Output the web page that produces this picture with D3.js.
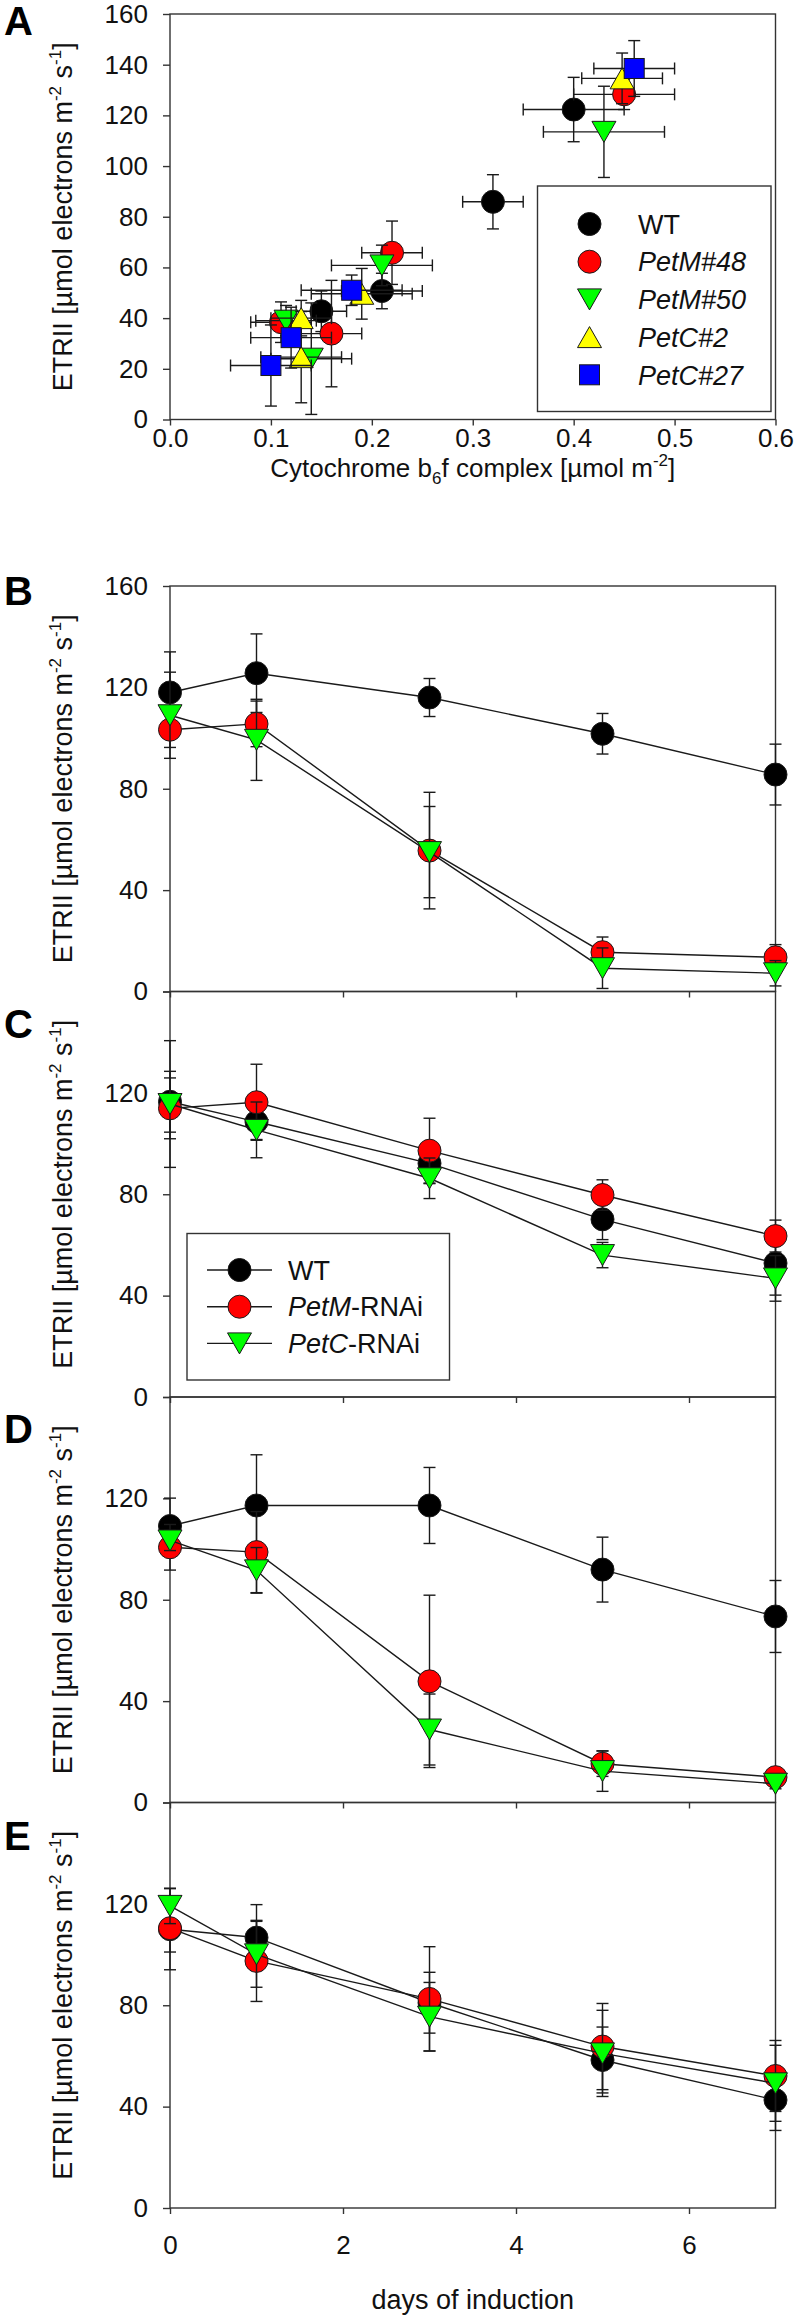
<!DOCTYPE html>
<html>
<head>
<meta charset="utf-8">
<script src="https://cdnjs.cloudflare.com/ajax/libs/d3/7.8.5/d3.min.js"></script>
<style>
  body { margin: 0; background: #fff; }
</style>
</head>
<body>
<div id="chart"></div>
<script>
// ---- panel A: ETRII vs cytochrome b6f content ----
// rows: [cyt b6f, cyt err, ETRII, ETRII err]
var wtA    = [[0.15, 0.025, 42.7, 8], [0.21, 0.04, 50.7, 7], [0.32, 0.03, 85.9, 10.7], [0.40, 0.05, 122.3, 12.7]];
var petm48 = [[0.11, 0.03, 38.4, 8], [0.16, 0.03, 33.9, 21], [0.22, 0.03, 65.8, 12.5], [0.45, 0.05, 128.3, 6]];
var petm50 = [[0.115, 0.03, 39, 6], [0.14, 0.04, 24, 22], [0.21, 0.05, 60.8, 8], [0.43, 0.06, 113.5, 18]];
var petc2  = [[0.13, 0.03, 40, 7], [0.13, 0.04, 24.6, 18], [0.19, 0.05, 49.6, 10], [0.448, 0.04, 134.6, 10]];
var petc27 = [[0.10, 0.04, 21.3, 16], [0.12, 0.04, 32.3, 12], [0.18, 0.05, 51, 6], [0.46, 0.04, 138.5, 11]];
var namesA = ['WT', 'PetM#48', 'PetM#50', 'PetC#2', 'PetC#27'];
var cytTicks = [0, 0.1, 0.2, 0.3, 0.4, 0.5, 0.6];
var etrTicksA = [0, 20, 40, 60, 80, 100, 120, 140, 160];

// ---- panels B-E: ETRII over days of induction ----
var days = [0, 1, 3, 5, 7];
var dayTicks = [0, 2, 4, 6];
var etrTicks = [0, 40, 80, 120, 160];
var namesT = ['WT', 'PetM', 'PetC'];

var wtB = [118, 125.6, 116, 101.7, 85.6],   wtBErr = [16, 15.5, 7.5, 8, 12];
var pmB = [103.3, 105.6, 55.6, 15.5, 13.5], pmBErr = [7, 9, 23, 6, 5];
var pcB = [109, 99.3, 55, 9.2, 7.2],        pcBErr = [17, 16, 18, 8, 5];

var wtC = [116.5, 108.6, 92.2, 70.1, 52.8], wtCErr = [12, 7, 8, 8, 12.6];
var pmC = [113.9, 116.3, 97.2, 79.7, 63.5], pmCErr = [12, 15, 12.8, 6, 6.3];
var pcC = [115.6, 105.4, 86.3, 56, 46.8],   pcCErr = [25, 11, 8, 5, 9];

var wtD = [109.1, 117.2, 117.2, 91.9, 73.4], wtDErr = [11, 20, 15, 12.8, 14.2];
var pmD = [100.7, 98.8, 47.8, 15.3, 10],     pmDErr = [9, 16, 34, 5, 1.5];
var pcD = [103.4, 91.6, 28.8, 12.4, 7.4],    pcDErr = [4, 9, 14, 8, 2];

var wtE = [110, 106.7, 81, 58.4, 42.6],    wtEErr = [16, 13, 12, 13, 12];
var pmE = [110.4, 97.5, 82.5, 63.7, 52.1], pmEErr = [9.4, 16, 20.6, 17, 14];
var pcE = [119.2, 100.1, 75.5, 61, 49.2],  pcEErr = [7, 13, 13.5, 17, 15];

var FONT = '"Liberation Sans", Arial, sans-serif',
    AXIS = '#333',
    LINE = '#1a1a1a',
    X0 = 170, X1 = 775.5,
    PANEL_H = 405.5;

var svg = d3.select('#chart').append('svg')
  .attr('width', 797)
  .attr('height', 2320)
  .style('font-family', FONT);

var drawMarker = function (g, shape, fill, cx, cy) {
  var m;
  if (shape === 'circle') {
    m = g.append('circle').attr('cx', cx).attr('cy', cy).attr('r', 11.5);
  } else if (shape === 'down') {
    m = g.append('path').attr('d', 'M' + (cx - 12) + ',' + (cy - 10.5) + 'L' + (cx + 12) + ',' + (cy - 10.5) + 'L' + cx + ',' + (cy + 10.5) + 'Z');
  } else if (shape === 'up') {
    m = g.append('path').attr('d', 'M' + (cx - 12) + ',' + (cy + 10.5) + 'L' + (cx + 12) + ',' + (cy + 10.5) + 'L' + cx + ',' + (cy - 10.5) + 'Z');
  } else {
    m = g.append('rect').attr('x', cx - 10).attr('y', cy - 10).attr('width', 20).attr('height', 20);
  }
  m.attr('fill', fill).attr('stroke', '#1a1a1a').attr('stroke-width', 1);
};

var vErr = function (g, x, y1, y2) {
  g.append('line').attr('x1', x).attr('x2', x).attr('y1', y1).attr('y2', y2);
  g.append('line').attr('x1', x - 6).attr('x2', x + 6).attr('y1', y1).attr('y2', y1);
  g.append('line').attr('x1', x - 6).attr('x2', x + 6).attr('y1', y2).attr('y2', y2);
};

var hErr = function (g, y, x1, x2) {
  g.append('line').attr('y1', y).attr('y2', y).attr('x1', x1).attr('x2', x2);
  g.append('line').attr('y1', y - 6).attr('y2', y + 6).attr('x1', x1).attr('x2', x1);
  g.append('line').attr('y1', y - 6).attr('y2', y + 6).attr('x1', x2).attr('x2', x2);
};

var styleAxis = function (g) {
  g.attr('font-size', 26).attr('font-family', FONT);
  g.select('.domain').remove();
  g.selectAll('line').attr('stroke', AXIS).attr('stroke-width', 1.4);
  g.selectAll('text').attr('fill', '#111');
};

var frame = function (top, bottom) {
  svg.append('rect')
    .attr('x', X0).attr('y', top)
    .attr('width', X1 - X0).attr('height', bottom - top)
    .attr('fill', 'none').attr('stroke', AXIS).attr('stroke-width', 1.4);
};

var yLabel = function (cy) {
  var t = svg.append('text')
    .attr('transform', 'translate(72,' + cy + ') rotate(-90)')
    .attr('text-anchor', 'middle')
    .attr('font-size', 27)
    .attr('fill', '#111');
  t.append('tspan').text('ETRII [µmol electrons m');
  t.append('tspan').attr('font-size', 17).attr('dy', -11).text('-2');
  t.append('tspan').attr('dy', 11).text(' s');
  t.append('tspan').attr('font-size', 17).attr('dy', -11).text('-1');
  t.append('tspan').attr('dy', 11).text(']');
};

var panelLetter = function (letter, baseline) {
  svg.append('text').attr('x', 4).attr('y', baseline)
    .attr('font-size', 40).attr('font-weight', 'bold')
    .attr('fill', '#000').text(letter);
};

// ---------------- panel A ----------------
var xA = d3.scaleLinear().domain([0, 0.6]).range([X0, X1]);
var yA = d3.scaleLinear().domain([0, 160]).range([14 + PANEL_H, 14]);

frame(yA(160), yA(0));

svg.append('g').attr('transform', 'translate(0,' + yA(0) + ')')
  .call(d3.axisBottom(xA).tickValues(cytTicks).tickFormat(d3.format('.1f')).tickSize(6).tickPadding(3))
  .call(styleAxis);
svg.append('g').attr('transform', 'translate(' + X0 + ',0)')
  .call(d3.axisLeft(yA).tickValues(etrTicksA).tickSize(7).tickPadding(15))
  .call(styleAxis);

var seriesA = [
  { name: namesA[0], data: wtA,    shape: 'circle', fill: '#000000' },
  { name: namesA[1], data: petm48, shape: 'circle', fill: '#ff0000' },
  { name: namesA[2], data: petm50, shape: 'down',   fill: '#00ff00' },
  { name: namesA[3], data: petc2,  shape: 'up',     fill: '#ffff00' },
  { name: namesA[4], data: petc27, shape: 'square', fill: '#0000ff' }
];

seriesA.forEach(function (s) {
  var g = svg.append('g');
  var eg = g.append('g').attr('stroke', LINE).attr('stroke-width', 1.4);
  s.data.forEach(function (d) {
    hErr(eg, yA(d[2]), xA(d[0] - d[1]), xA(d[0] + d[1]));
    vErr(eg, xA(d[0]), yA(d[2] - d[3]), yA(d[2] + d[3]));
  });
  s.data.forEach(function (d) {
    drawMarker(g, s.shape, s.fill, xA(d[0]), yA(d[2]));
  });
});

// legend A
var legA = svg.append('g');
legA.append('rect').attr('x', 537.5).attr('y', 186).attr('width', 233.5).attr('height', 225.5)
  .attr('fill', '#fff').attr('stroke', AXIS).attr('stroke-width', 1.4);
seriesA.forEach(function (s, i) {
  var cy = 224 + i * 37.7;
  drawMarker(legA, s.shape, s.fill, 589.5, cy);
  var t = legA.append('text').attr('x', 638).attr('y', cy + 9.7)
    .attr('font-size', 27).attr('fill', '#111');
  if (i === 0) {
    t.text(s.name);
  } else {
    t.attr('font-style', 'italic').text(s.name);
  }
});

// x label A
var xl = svg.append('text').attr('x', (X0 + X1) / 2).attr('y', 477)
  .attr('text-anchor', 'middle').attr('font-size', 26).attr('fill', '#111');
xl.append('tspan').text('Cytochrome b');
xl.append('tspan').attr('font-size', 17).attr('dy', 7).text('6');
xl.append('tspan').attr('dy', -7).text('f complex [µmol m');
xl.append('tspan').attr('font-size', 17).attr('dy', -11).text('-2');
xl.append('tspan').attr('dy', 11).text(']');

yLabel(14 + PANEL_H / 2);
panelLetter('A', 35);

// ---------------- panels B-E ----------------
var xT = d3.scaleLinear().domain([0, 7]).range([X0, X1]);

var panels = [
  { letter: 'B', top: 586,                   letterY: 605,  wt: [wtB, wtBErr], pm: [pmB, pmBErr], pc: [pcB, pcBErr] },
  { letter: 'C', top: 586 + PANEL_H,         letterY: 1038, wt: [wtC, wtCErr], pm: [pmC, pmCErr], pc: [pcC, pcCErr] },
  { letter: 'D', top: 586 + PANEL_H * 2,     letterY: 1443, wt: [wtD, wtDErr], pm: [pmD, pmDErr], pc: [pcD, pcDErr] },
  { letter: 'E', top: 586 + PANEL_H * 3,     letterY: 1850, wt: [wtE, wtEErr], pm: [pmE, pmEErr], pc: [pcE, pcEErr] }
];

var styleT = [
  { key: 'wt', shape: 'circle', fill: '#000000' },
  { key: 'pm', shape: 'circle', fill: '#ff0000' },
  { key: 'pc', shape: 'down',   fill: '#00ff00' }
];

panels.forEach(function (p, pi) {
  var y = d3.scaleLinear().domain([0, 160]).range([p.top + PANEL_H, p.top]);
  frame(p.top, p.top + PANEL_H);

  var isLast = pi === panels.length - 1;
  svg.append('g').attr('transform', 'translate(0,' + y(0) + ')')
    .call(d3.axisBottom(xT).tickValues(dayTicks).tickSize(6).tickPadding(22)
      .tickFormat(isLast ? d3.format('d') : function () { return ''; }))
    .call(styleAxis);
  svg.append('g').attr('transform', 'translate(' + X0 + ',0)')
    .call(d3.axisLeft(y).tickValues(etrTicks).tickSize(7).tickPadding(15)
      .tickFormat(function (d) { return (pi > 0 && d === 160) ? '' : d; }))
    .call(styleAxis);

  var line = d3.line().x(function (d) { return xT(d[0]); }).y(function (d) { return y(d[1]); });

  styleT.forEach(function (s) {
    var vals = p[s.key][0], errs = p[s.key][1];
    var pts = days.map(function (d, i) { return [d, vals[i], errs[i]]; });
    var g = svg.append('g');
    g.append('path').datum(pts).attr('d', line)
      .attr('fill', 'none').attr('stroke', LINE).attr('stroke-width', 1.4);
    var eg = g.append('g').attr('stroke', LINE).attr('stroke-width', 1.4);
    pts.forEach(function (d) {
      vErr(eg, xT(d[0]), y(d[1] - d[2]), y(d[1] + d[2]));
    });
    pts.forEach(function (d) {
      drawMarker(g, s.shape, s.fill, xT(d[0]), y(d[1]));
    });
  });

  yLabel(p.top + PANEL_H / 2);
  panelLetter(p.letter, p.letterY);
});

// legend C
var legC = svg.append('g');
legC.append('rect').attr('x', 187).attr('y', 1233.5).attr('width', 262.5).attr('height', 146.5)
  .attr('fill', '#fff').attr('stroke', AXIS).attr('stroke-width', 1.4);
styleT.forEach(function (s, i) {
  var cy = 1270 + i * 36.7;
  legC.append('line').attr('x1', 207).attr('x2', 272).attr('y1', cy).attr('y2', cy)
    .attr('stroke', LINE).attr('stroke-width', 1.4);
  drawMarker(legC, s.shape, s.fill, 239.5, cy);
  var t = legC.append('text').attr('x', 288).attr('y', cy + 9.7)
    .attr('font-size', 27).attr('fill', '#111');
  if (i === 0) {
    t.text(namesT[i]);
  } else {
    t.append('tspan').attr('font-style', 'italic').text(namesT[i]);
    t.append('tspan').text('-RNAi');
  }
});

// x label E
svg.append('text').attr('x', (X0 + X1) / 2).attr('y', 2309)
  .attr('text-anchor', 'middle').attr('font-size', 27).attr('fill', '#111')
  .text('days of induction');
</script>
</body>
</html>
